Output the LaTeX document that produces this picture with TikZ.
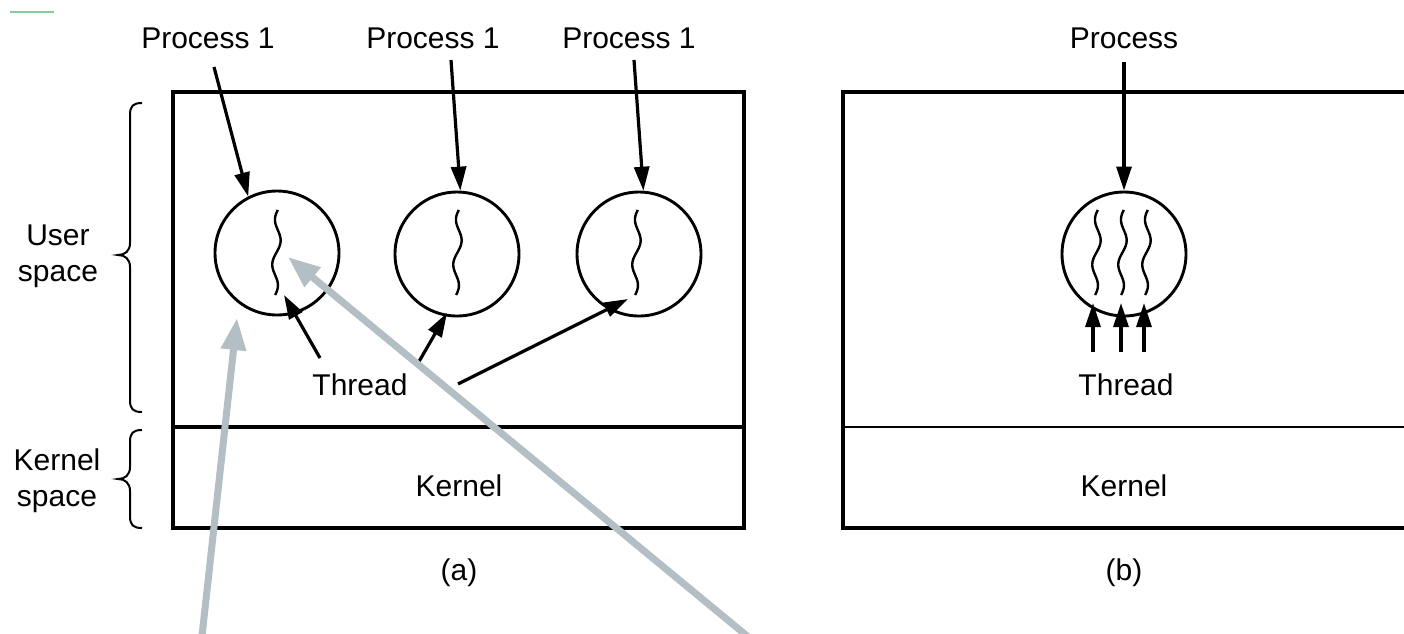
\documentclass[tikz,border=0pt]{standalone}
\usepackage{fontspec}
\setmainfont{Liberation Sans}
\usetikzlibrary{arrows.meta}
\definecolor{notegray}{HTML}{B3BEC5}
\definecolor{greenmark}{HTML}{86CB9C}
\begin{document}
\begin{tikzpicture}[x=1pt,y=-1pt,
  lbl/.style={font=\fontsize{30}{36}\selectfont, inner sep=0pt},
  boxline/.style={line width=3.2pt},
  proc/.style={circle, draw, line width=2.9pt, minimum size=124pt, inner sep=0pt},
  arr/.style={line width=3.2pt, -{Triangle[length=24pt,width=15pt]}},
  thr/.style={line width=2.4pt},
  brc/.style={line width=2pt},
  note/.style={draw=notegray, line width=7pt, -{Triangle[length=32pt,width=24pt]}}]
\useasboundingbox (0,0) rectangle (1404,633);
\fill[white] (0,0) rectangle (1404,633);
% small green mark
\draw[greenmark, line width=2pt] (10,12) -- (54,12);
% boxes
\draw[boxline] (173,92) rectangle (744,528);
\draw[line width=3.6pt] (173,427) -- (744,427);
\draw[boxline] (1410,92) -- (843,92) -- (843,528) -- (1410,528);
\draw[line width=2.6pt] (843,427) -- (1410,427);
% braces
\draw[brc] (142,103) .. controls (133,103) and (130,106) .. (130,115) -- (130,243)
  .. controls (130,251) and (125,255) .. (118,255)
  .. controls (125,255) and (130,259) .. (130,267) -- (130,400)
  .. controls (130,409) and (133,412) .. (142,412);
\draw[brc] (142,430) .. controls (133,430) and (130,433) .. (130,442) -- (130,467)
  .. controls (130,475) and (125,479) .. (118,479)
  .. controls (125,479) and (130,483) .. (130,491) -- (130,516)
  .. controls (130,525) and (133,528) .. (142,528);
% side labels
\node[lbl, align=center] (us) at (58,256) {User\\space};
\node[lbl, align=center] (ks) at (57,481) {Kernel\\space};
% process labels
\node[lbl] (p1) at (208,38.5) {Process 1};
\node[lbl] (p2) at (433,38.5) {Process 1};
\node[lbl] (p3) at (629,38.5) {Process 1};
\node[lbl] (pb) at (1124,38.5) {Process};
% processes
\node[proc] (c1) at (277,253) {};
\node[proc] (c2) at (457,254) {};
\node[proc] (c3) at (639,254) {};
\node[proc] (cb) at (1124,254) {};
% threads
\foreach \tx in {279,460,639,1099,1125,1149}
  \draw[thr] plot[domain=0:85, samples=60, smooth] ({\tx-0.06*\x-3.5*sin(\x*8+20)}, {210+\x});
% labels
\node[lbl] (thra) at (360,385) {Thread};
\node[lbl] (thrb) at (1126,385) {Thread};
\node[lbl] (ka) at (459,486) {Kernel};
\node[lbl] (kb) at (1124,486) {Kernel};
\node[lbl] (la) at (459,573) {(a)};
\node[lbl] (lb) at (1124,573) {(b)};
% process arrows
\coordinate (s1) at (214,67);
\coordinate (s2) at (451,60);
\coordinate (s3) at (634,60);
\coordinate (sb) at (1124,62);
\draw[arr] (s1) -- (c1.117);
\draw[arr] (s2) -- (c2.87);
\draw[arr] (s3) -- (c3.86);
\draw[arr] (sb) -- (cb.90);
% thread arrows (a)
\coordinate (ta1) at (320,358);
\coordinate (ta2) at (417,365);
\coordinate (ta3) at (458,384);
\coordinate (te1) at (284,295);
\coordinate (te2) at (447,313);
\coordinate (te3) at (628,299);
\draw[arr] (ta1) -- (te1);
\draw[arr] (ta2) -- (te2);
\draw[arr] (ta3) -- (te3);
% thread arrows (b)
\foreach \ax/\nm in {1093/b1,1121/b2,1144/b3}{
  \coordinate (\nm s) at (\ax,352);
  \coordinate (\nm e) at (\ax,303);
  \draw[arr] (\nm s) -- (\nm e);
}
% grey annotation arrows
\coordinate (g1s) at (201,645);
\coordinate (g1e) at (237,318);
\coordinate (g2s) at (758,645);
\coordinate (g2e) at (288,257);
\draw[note] (g1s) -- (g1e);
\draw[note] (g2s) -- (g2e);
\end{tikzpicture}
\end{document}
